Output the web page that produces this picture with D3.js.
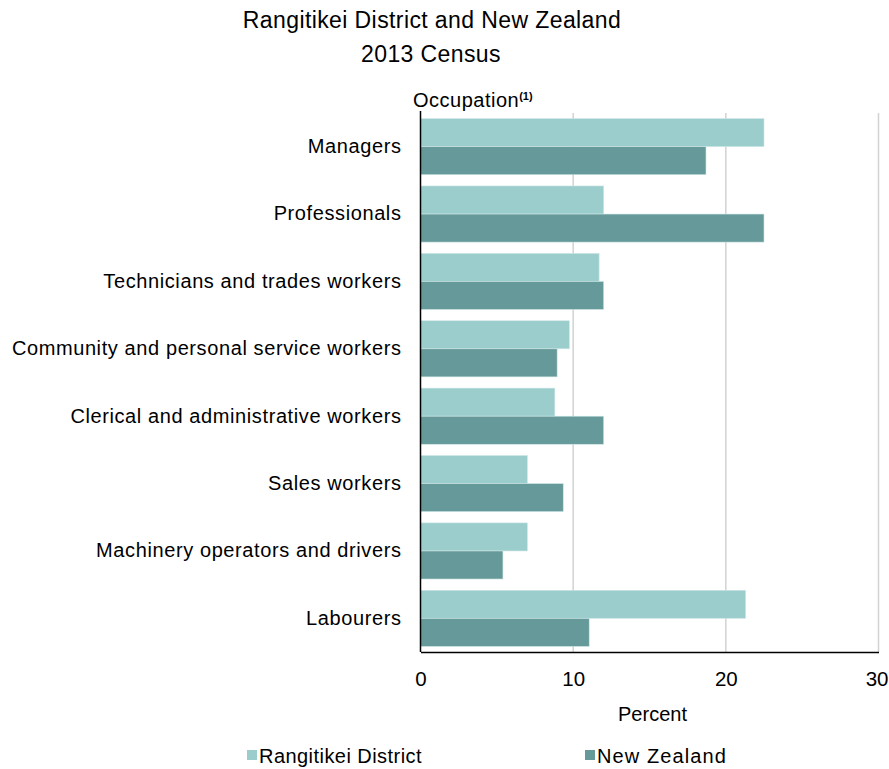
<!DOCTYPE html>
<html><head><meta charset="utf-8">
<script src="https://cdn.jsdelivr.net/npm/d3@7"></script>
<style>body{margin:0;background:#fff;} text{font-family:"Liberation Sans",Arial,sans-serif;fill:#000;}</style>
</head><body>
<svg id="c" width="889" height="769"></svg>
<script>
const categories = ["Managers","Professionals","Technicians and trades workers","Community and personal service workers","Clerical and administrative workers","Sales workers","Machinery operators and drivers","Labourers"];
const rangitikei = [22.5, 12.0, 11.7, 9.75, 8.8, 7.0, 7.0, 21.3];
const newZealand = [18.7, 22.5, 12.0, 8.95, 12.0, 9.35, 5.4, 11.05];
const seriesNames = ["Rangitikei District","New Zealand"];
const xTicks = [0,10,20,30];
const colors = ["#9bcdcd","#669999"];

(function(){
const FF = "Liberation Sans, Arial, sans-serif";
const svg = d3.select("#c");
const pL = 420.5, pR = 878.5, pT = 113, pB = 652;
const x = d3.scaleLinear().domain([0,30]).range([pL,pR]);
const y = d3.scaleBand().domain(categories).range([pT,pB]).paddingInner(0.167).paddingOuter(0.083);
const ys = d3.scaleBand().domain(seriesNames).range([0,y.bandwidth()]);

svg.append("text").attr("x",432).attr("y",28).attr("text-anchor","middle").attr("font-size",23).attr("letter-spacing",0.4).text("Rangitikei District and New Zealand");
svg.append("text").attr("x",431).attr("y",62).attr("text-anchor","middle").attr("font-size",23).attr("letter-spacing",0.4).text("2013 Census");

svg.append("g").selectAll("line").data(xTicks.slice(1)).join("line")
  .attr("x1",d=>x(d)).attr("x2",d=>x(d)).attr("y1",pT).attr("y2",pB)
  .attr("stroke","#d2d2d2").attr("stroke-width",1.5);

const data = categories.map((c,i)=>({c, vals:[rangitikei[i], newZealand[i]]}));
const g = svg.append("g");
data.forEach(d=>{
  d.vals.forEach((v,j)=>{
    g.append("rect").attr("x",x(0)).attr("y",y(d.c)+ys(seriesNames[j]))
     .attr("width",x(v)-x(0)).attr("height",ys.bandwidth())
     .attr("fill",colors[j]).attr("stroke","#cfe6e6").attr("stroke-width",0.6);
  });
});

const xa = svg.append("g").attr("transform",`translate(0,${pB})`)
  .call(d3.axisBottom(x).tickValues(xTicks).tickSize(0).tickPadding(19));
xa.select(".domain").attr("stroke","#000").attr("stroke-width",1.5);
xa.selectAll("text").attr("font-size",20.5).style("font-family",FF).attr("fill","#000");
xa.selectAll(".tick").filter(d=>d===30).select("text").attr("text-anchor","end").attr("x",888-x(30));

const ya = svg.append("g").attr("transform",`translate(${pL},0)`)
  .call(d3.axisLeft(y).tickSize(0).tickPadding(19));
ya.select(".domain").attr("d",`M0,${pT-2}V${pB}`).attr("stroke","#000").attr("stroke-width",1.5);
ya.selectAll("text").attr("font-size",20).attr("letter-spacing",0.6).style("font-family",FF).attr("fill","#000");

svg.append("text").attr("x",x(15)+3).attr("y",721).attr("text-anchor","middle").attr("font-size",20).text("Percent");

const occ = svg.append("text").attr("x",413).attr("y",107).attr("font-size",20).attr("letter-spacing",0.5);
occ.append("tspan").text("Occupation");
occ.append("tspan").attr("font-size",11).attr("dy",-7).attr("font-weight","bold").attr("letter-spacing",0).text("(1)");

const legX = [247,585];
const legSp = [0.45,1.1];
seriesNames.forEach((s,i)=>{
  svg.append("rect").attr("x",legX[i]).attr("y",750).attr("width",10).attr("height",10).attr("fill",colors[i]);
  svg.append("text").attr("x",legX[i]+12).attr("y",763).attr("font-size",20).attr("letter-spacing",legSp[i]).text(s);
});
})();
</script>
</body></html>
